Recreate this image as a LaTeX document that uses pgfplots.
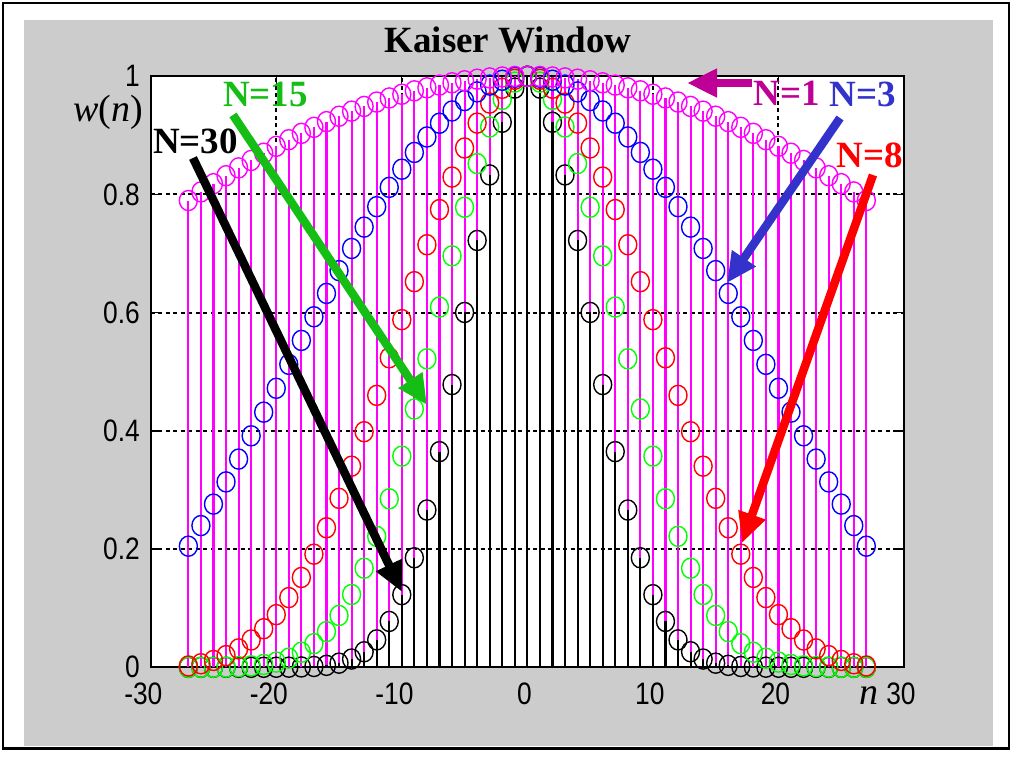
\documentclass[border=0pt]{standalone}
\usepackage{fontspec}
\setmainfont{Liberation Serif}
\newfontfamily\ticksans[FakeStretch=0.85]{Liberation Sans}
\usepackage{pgfplots}
\pgfplotsset{compat=1.18}
\usepackage{pgfplotstable}
\usetikzlibrary{arrows.meta}

\definecolor{mag}{RGB}{255,0,255}
\definecolor{lblpurple}{RGB}{190,0,150}
\definecolor{lblblue}{RGB}{51,51,204}
\definecolor{lblgreen}{RGB}{20,190,20}
\definecolor{mkgreen}{RGB}{0,255,0}
\definecolor{mkblue}{RGB}{0,0,255}
\definecolor{mkred}{RGB}{255,0,0}
\definecolor{bggray}{RGB}{204,204,204}

\pgfplotstableread{
n w1 w3 w8 w15 w30
-27 0.7898 0.2049 0.0023 0.0000 0.0000
-26 0.8043 0.2398 0.0060 0.0000 0.0000
-25 0.8183 0.2761 0.0116 0.0001 0.0000
-24 0.8318 0.3137 0.0198 0.0004 0.0000
-23 0.8450 0.3523 0.0312 0.0011 0.0000
-22 0.8576 0.3917 0.0462 0.0024 0.0000
-21 0.8698 0.4317 0.0653 0.0048 0.0000
-20 0.8815 0.4721 0.0891 0.0089 0.0001
-19 0.8927 0.5126 0.1180 0.0155 0.0002
-18 0.9034 0.5531 0.1520 0.0255 0.0006
-17 0.9136 0.5931 0.1914 0.0400 0.0014
-16 0.9233 0.6326 0.2361 0.0604 0.0033
-15 0.9324 0.6712 0.2859 0.0877 0.0070
-14 0.9410 0.7087 0.3403 0.1232 0.0140
-13 0.9490 0.7448 0.3986 0.1676 0.0263
-12 0.9564 0.7794 0.4601 0.2216 0.0464
-11 0.9633 0.8121 0.5237 0.2851 0.0776
-10 0.9696 0.8428 0.5882 0.3573 0.1229
-9 0.9754 0.8712 0.6525 0.4370 0.1853
-8 0.9805 0.8973 0.7150 0.5220 0.2661
-7 0.9851 0.9206 0.7745 0.6095 0.3649
-6 0.9890 0.9413 0.8295 0.6962 0.4784
-5 0.9924 0.9589 0.8787 0.7784 0.6004
-4 0.9951 0.9736 0.9208 0.8523 0.7222
-3 0.9972 0.9851 0.9547 0.9142 0.8331
-2 0.9988 0.9933 0.9797 0.9610 0.9222
-1 0.9997 0.9983 0.9949 0.9901 0.9800
0 1.0000 1.0000 1.0000 1.0000 1.0000
1 0.9997 0.9983 0.9949 0.9901 0.9800
2 0.9988 0.9933 0.9797 0.9610 0.9222
3 0.9972 0.9851 0.9547 0.9142 0.8331
4 0.9951 0.9736 0.9208 0.8523 0.7222
5 0.9924 0.9589 0.8787 0.7784 0.6004
6 0.9890 0.9413 0.8295 0.6962 0.4784
7 0.9851 0.9206 0.7745 0.6095 0.3649
8 0.9805 0.8973 0.7150 0.5220 0.2661
9 0.9754 0.8712 0.6525 0.4370 0.1853
10 0.9696 0.8428 0.5882 0.3573 0.1229
11 0.9633 0.8121 0.5237 0.2851 0.0776
12 0.9564 0.7794 0.4601 0.2216 0.0464
13 0.9490 0.7448 0.3986 0.1676 0.0263
14 0.9410 0.7087 0.3403 0.1232 0.0140
15 0.9324 0.6712 0.2859 0.0877 0.0070
16 0.9233 0.6326 0.2361 0.0604 0.0033
17 0.9136 0.5931 0.1914 0.0400 0.0014
18 0.9034 0.5531 0.1520 0.0255 0.0006
19 0.8927 0.5126 0.1180 0.0155 0.0002
20 0.8815 0.4721 0.0891 0.0089 0.0001
21 0.8698 0.4317 0.0653 0.0048 0.0000
22 0.8576 0.3917 0.0462 0.0024 0.0000
23 0.8450 0.3523 0.0312 0.0011 0.0000
24 0.8318 0.3137 0.0198 0.0004 0.0000
25 0.8183 0.2761 0.0116 0.0001 0.0000
26 0.8043 0.2398 0.0060 0.0000 0.0000
27 0.7898 0.2049 0.0023 0.0000 0.0000
}\kaiser

\begin{document}
\begin{tikzpicture}[x=1pt,y=1pt]
\useasboundingbox (0,0) rectangle (1013,758);
\fill[white] (0,0) rectangle (1013,758);
\draw[black, line width=2.2pt] (3,9.5) rectangle (1009,755);
\fill[bggray] (24,12) rectangle (993,738);
\begin{axis}[
  at={(150.7pt,90.7pt)}, anchor=south west,
  scale only axis, width=753.3pt, height=591pt,
  xmin=-30, xmax=30, ymin=0, ymax=1,
  xtick={-30,-20,-10,0,10,20,30},
  xticklabels={\llap{-}30,\llap{-}20,\llap{-}10,0,10,20,30},
  ytick={0,0.2,0.4,0.6,0.8,1},
  yticklabels={0,0.2,0.4,0.6,0.8,1},
  ticklabel style={font=\ticksans\fontsize{31}{31}\selectfont, inner sep=0pt, text=black},
  xticklabel style={anchor=north, yshift=-15.5pt, xshift=-3pt},
  yticklabel style={anchor=east, xshift=-10.7pt},
  tick align=inside,
  major tick length=8pt,
  tick style={line width=1.3pt, black},
  axis line style={line width=1.6pt, black},
  axis background/.style={fill=white},
  grid=major,
  grid style={black, line width=2pt, dash pattern=on 4pt off 3.5pt},
  major grid style={black, line width=2pt, dash pattern=on 4pt off 3.5pt},
]
% stems
\addplot[mag, line width=2.1pt, ycomb, mark=none] table[x=n,y=w1]{\kaiser};
\addplot[black, line width=2.1pt, ycomb, mark=none] table[x=n,y=w30]{\kaiser};
% markers
\addplot[only marks, black, mark=o, mark size=9pt, mark options={solid, yscale=1.12, line width=1.4pt}] table[x=n,y=w30]{\kaiser};
\addplot[only marks, mkgreen, mark=o, mark size=9pt, mark options={solid, yscale=1.12, line width=1.4pt}] table[x=n,y=w15]{\kaiser};
\addplot[only marks, mkred, mark=o, mark size=9pt, mark options={solid, yscale=1.12, line width=1.4pt}] table[x=n,y=w8]{\kaiser};
\addplot[only marks, mkblue, mark=o, mark size=9pt, mark options={solid, yscale=1.12, line width=1.4pt}] table[x=n,y=w3]{\kaiser};
\addplot[only marks, mag, mark=o, mark size=9pt, mark options={solid, yscale=1.12, line width=1.4pt}] table[x=n,y=w1]{\kaiser};
\end{axis}
% title and axis labels
\node[font=\fontsize{37}{37}\selectfont\bfseries, inner sep=0pt] at (508,717.7) {Kaiser Window};
\node[font=\fontsize{38}{38}\selectfont, inner sep=0pt, anchor=base] at (108,636) {\textit{w}(\textit{n})};
\node[font=\fontsize{38}{38}\selectfont\itshape, inner sep=0pt, anchor=base] at (869,53) {n};
% arrows
\tikzset{lbl/.style={font=\fontsize{37}{37}\selectfont\bfseries, inner sep=0pt},
         arr/.style={line width=8.5pt, -{Triangle[length=30pt,width=27pt]}}}
\draw[arr, lblpurple] (752,675) -- (687,675);
\draw[arr, lblblue] (840,640) -- (727,475);
\draw[arr, mkred] (873,583) -- (742,215);
\draw[arr, lblgreen] (233,643) -- (427,353);
\draw[arr, black] (193,600) -- (402,166);
% labels
\node[lbl, text=lblgreen] at (265.5,663.5) {N=15};
\node[lbl, text=black] at (195.5,616.5) {N=30};
\node[lbl, text=lblpurple] at (786.5,664.5) {N=1};
\node[lbl, text=lblblue] at (862.5,663.5) {N=3};
\node[lbl, text=mkred] at (869.5,602.5) {N=8};
\end{tikzpicture}
\end{document}
